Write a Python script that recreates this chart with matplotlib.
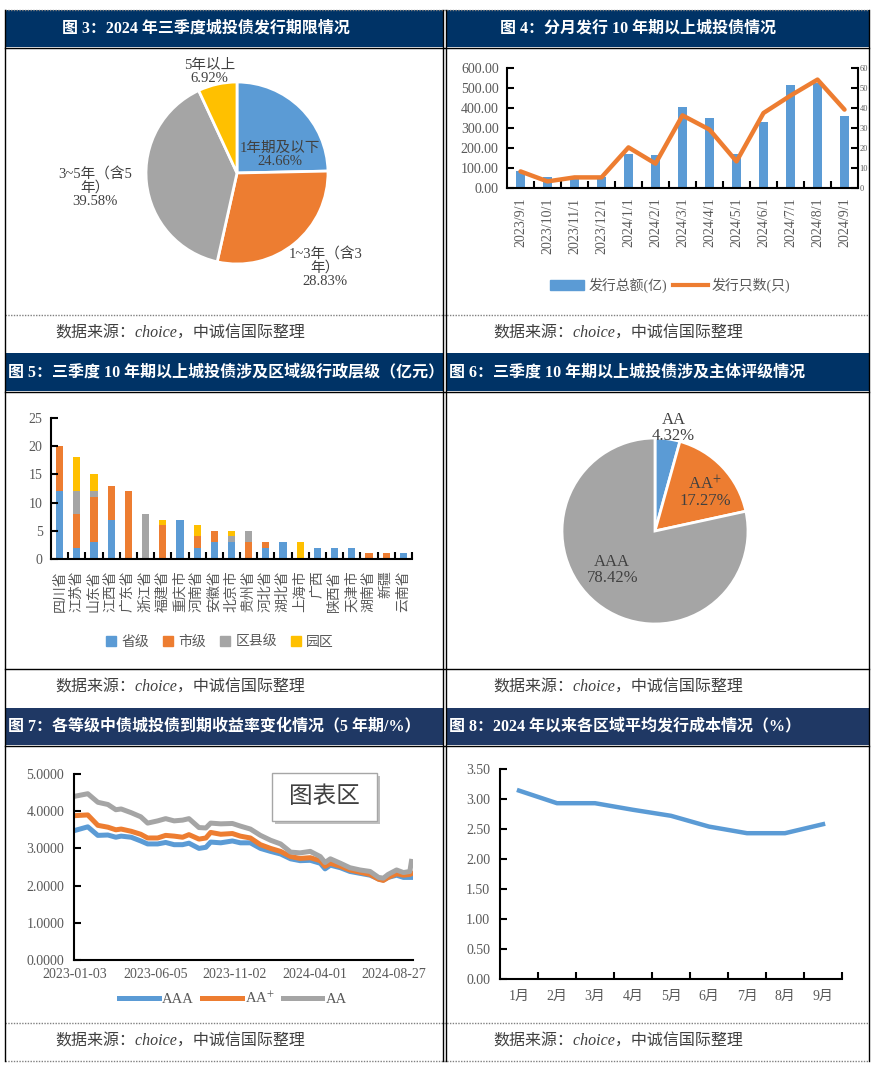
import matplotlib.pyplot as plt
import matplotlib.patches as mpatches
from matplotlib.lines import Line2D
import numpy as np
import pandas as pd

plt.rcParams['font.family'] = ['Liberation Serif', 'Noto Sans CJK SC']
plt.rcParams['mathtext.fontset'] = 'stix'
plt.rcParams['axes.unicode_minus'] = False

W, H = 871, 1066
TXT = '#595959'
LAB = '#404040'
BLUE, ORANGE, GRAY, YELLOW = '#5B9BD5', '#ED7D31', '#A5A5A5', '#FFC000'
NAVY, NAVY2 = '#003366', '#1F3864'

# 图3 发行期限
term_names = ['1年期及以下', '1~3年（含3\n年）', '3~5年（含5\n年）', '5年以上']
term_share = [24.66, 28.83, 39.58, 6.92]

# 图4 分月发行
months4 = ['2023/9/1', '2023/10/1', '2023/11/1', '2023/12/1', '2024/1/1', '2024/2/1',
           '2024/3/1', '2024/4/1', '2024/5/1', '2024/6/1', '2024/7/1', '2024/8/1', '2024/9/1']
amount4 = [87, 53, 55, 53, 172, 167, 407, 352, 172, 332, 513, 525, 362]
count4 = [8.3, 3.3, 5.3, 5.3, 20.3, 12.2, 36.3, 29.2, 13.3, 37.5, 46.2, 54.2, 39.2]

# 图5 区域行政层级
regions = ['四川省', '江苏省', '山东省', '江西省', '广东省', '浙江省', '福建省', '重庆市', '河南省',
           '安徽省', '北京市', '贵州省', '河北省', '湖北省', '上海市', '广西', '陕西省', '天津市',
           '湖南省', '新疆', '云南省']
prov = [12, 2, 3, 7, 0, 0, 0, 7, 2, 3, 3, 0, 2, 3, 0, 2, 2, 2, 0, 0, 1]
city = [8, 6, 8, 6, 12, 0, 6, 0, 2, 2, 0, 3, 1, 0, 0, 0, 0, 0, 1, 1, 0]
county = [0, 4, 1, 0, 0, 8, 0, 0, 0, 0, 1, 2, 0, 0, 0, 0, 0, 0, 0, 0, 0]
park = [0, 6, 3, 0, 0, 0, 1, 0, 2, 0, 1, 0, 0, 0, 3, 0, 0, 0, 0, 0, 0]

# 图6 主体评级
rating_names = ['AA', 'AA$^{+}$', 'AAA']
rating_share = [4.32, 17.27, 78.42]

# 图7 收益率 (5年期)
dates7 = ['2023-01-03', '2023-01-28', '2023-02-16', '2023-03-07', '2023-03-22', '2023-04-01',
          '2023-04-20', '2023-05-08', '2023-05-21', '2023-06-09', '2023-06-24', '2023-07-10',
          '2023-07-26', '2023-08-07', '2023-08-26', '2023-09-08', '2023-09-17', '2023-10-06',
          '2023-10-28', '2023-11-12', '2023-12-01', '2023-12-20', '2024-01-08', '2024-01-27',
          '2024-02-15', '2024-03-04', '2024-03-23', '2024-04-11', '2024-04-20', '2024-04-30',
          '2024-05-19', '2024-06-06', '2024-06-25', '2024-07-14', '2024-07-30', '2024-08-08',
          '2024-08-17', '2024-09-02', '2024-09-15', '2024-09-27', '2024-09-30']
aaa = [3.48, 3.58, 3.35, 3.36, 3.30, 3.33, 3.30, 3.20, 3.12, 3.12, 3.16, 3.10, 3.10, 3.14,
       3.00, 3.03, 3.17, 3.15, 3.20, 3.15, 3.15, 3.00, 2.92, 2.85, 2.72, 2.67, 2.68, 2.60,
       2.45, 2.55, 2.48, 2.38, 2.33, 2.28, 2.18, 2.15, 2.22, 2.28, 2.22, 2.22, 2.22]
aa_plus = [3.88, 3.90, 3.62, 3.57, 3.50, 3.52, 3.46, 3.38, 3.28, 3.28, 3.35, 3.33, 3.30, 3.37,
           3.25, 3.28, 3.43, 3.38, 3.40, 3.33, 3.28, 3.10, 3.00, 2.92, 2.78, 2.73, 2.75, 2.67,
           2.52, 2.60, 2.52, 2.42, 2.36, 2.30, 2.17, 2.14, 2.22, 2.32, 2.28, 2.30, 2.32]
aa = [4.40, 4.47, 4.24, 4.18, 4.04, 4.06, 3.96, 3.85, 3.68, 3.74, 3.80, 3.74, 3.76, 3.80,
      3.56, 3.55, 3.68, 3.66, 3.67, 3.60, 3.52, 3.35, 3.22, 3.12, 2.90, 2.88, 2.92, 2.78,
      2.62, 2.72, 2.60, 2.48, 2.42, 2.38, 2.22, 2.20, 2.30, 2.42, 2.35, 2.38, 2.65]
ticks7 = ['2023-01-03', '2023-06-05', '2023-11-02', '2024-04-01', '2024-08-27']

# 图8 平均发行成本
months8 = ['1月', '2月', '3月', '4月', '5月', '6月', '7月', '8月', '9月']
cost8 = [3.14, 2.93, 2.93, 2.82, 2.72, 2.54, 2.43, 2.43, 2.58]

SOURCE = '数据来源：choice，中诚信国际整理'

fig = plt.figure(figsize=(W / 100, H / 100), dpi=100)


def box(l, t, r, b):
    return fig.add_axes([l / W, 1 - b / H, (r - l) / W, (b - t) / H])


def style(ax):
    for s in ['top', 'right']:
        ax.spines[s].set_visible(False)
    for s in ['left', 'bottom']:
        ax.spines[s].set_linewidth(1.5)
        ax.spines[s].set_color('black')
    ax.tick_params(axis='both', colors='black', labelcolor=TXT, labelsize=10,
                   direction='in', width=1.5, length=5)
    ax.tick_params(axis='x', which='major', length=0)
    ax.tick_params(axis='x', which='minor', direction='in', width=1.5, length=5)


# background table
bg = fig.add_axes([0, 0, 1, 1])
bg.set_xlim(0, W)
bg.set_ylim(H, 0)
bg.axis('off')

headers = [
    (10, 47, NAVY, '图 3：2024 年三季度城投债发行期限情况', '图 4：分月发行 10 年期以上城投债情况', True),
    (353, 391, NAVY, '图 5：三季度 10 年期以上城投债涉及区域级行政层级（亿元）',
     '图 6：三季度 10 年期以上城投债涉及主体评级情况', False),
    (708, 745, NAVY2, '图 7：各等级中债城投债到期收益率变化情况（5 年期/%）',
     '图 8：2024 年以来各区域平均发行成本情况（%）', False),
]
for t, b, col, lt, rt, centered in headers:
    bg.add_patch(mpatches.Rectangle((5, t), 438, b - t, color=col, lw=0))
    bg.add_patch(mpatches.Rectangle((446, t), 423, b - t, color=col, lw=0))
    bg.plot([5, 869], [b + 1, b + 1], color='black', lw=1)
    yc = (t + b) / 2
    if centered:
        bg.text(206, yc, lt, color='white', fontsize=11.5, weight='bold', ha='center', va='center')
        bg.text(638, yc, rt, color='white', fontsize=11.5, weight='bold', ha='center', va='center')
    else:
        bg.text(8, yc, lt, color='white', fontsize=11.5, weight='bold', ha='left', va='center')
        bg.text(449, yc, rt, color='white', fontsize=11.5, weight='bold', ha='left', va='center')

for y in [334, 688, 1042]:
    bg.text(55, y, SOURCE, fontsize=11.5, style='italic', color=LAB, va='center')
    bg.text(493, y, SOURCE, fontsize=11.5, style='italic', color=LAB, va='center')

for y in [10, 315, 1023, 1061]:
    bg.plot([5, 869], [y, y], color='#808080', lw=1, ls=(0, (1, 1)))
bg.plot([5, 869], [669, 669], color='black', lw=1)
for x in [5, 443, 446, 869]:
    bg.plot([x, x], [10, 1061], color='black', lw=1)

# 图3 pie
ax3 = box(237 - 91, 173 - 91, 237 + 91, 173 + 91)
ax3.pie(term_share, colors=[BLUE, ORANGE, GRAY, YELLOW], startangle=90, counterclock=False,
        wedgeprops=dict(edgecolor='white', linewidth=2))
ax3.set_xlim(-1, 1)
ax3.set_ylim(-1, 1)
pos3 = [(0.47, 0.20), (0.97, -1.04), (-1.56, -0.16), (-0.30, 1.11)]
for name, v, (dx, dy) in zip(term_names, term_share, pos3):
    ax3.text(dx, dy, f'{name}\n{v:.2f}%', ha='center', va='center', fontsize=10.5,
             color=LAB, linespacing=1.0)

# 图4 bar + line
ax4 = box(507, 68, 858, 188)
x4 = np.arange(len(months4))
ax4.bar(x4, amount4, width=0.32, color=BLUE)
ax4.set_xlim(-0.5, len(months4) - 0.5)
ax4.set_ylim(0, 600)
ax4.set_yticks(range(0, 601, 100))
ax4.yaxis.set_major_formatter('{x:.2f}')
ax4.set_xticks(x4)
ax4.set_xticklabels(months4, rotation=90, fontsize=9.5)
ax4.set_xticks(x4[:-1] + 0.5, minor=True)
style(ax4)
ax4.tick_params(axis='y', pad=6)
ax4.tick_params(axis='x', pad=7)
ax4t = ax4.twinx()
ax4t.plot(x4, count4, color=ORANGE, lw=3.2, solid_capstyle='round')
ax4t.set_ylim(0, 60)
ax4t.set_yticks(range(0, 61, 10))
for s in ['top', 'left', 'bottom']:
    ax4t.spines[s].set_visible(False)
ax4t.spines['right'].set_linewidth(1.5)
ax4t.tick_params(axis='y', direction='in', width=1.5, length=5, labelcolor=TXT,
                 labelsize=6, pad=1)
fig.legend(handles=[mpatches.Patch(color=BLUE, label='发行总额(亿)'),
                    Line2D([], [], color=ORANGE, lw=3, label='发行只数(只)')],
           loc='center', bbox_to_anchor=(670 / W, 1 - 285 / H), ncol=2, frameon=False,
           fontsize=10, labelcolor=TXT, handlelength=2.5, handletextpad=0.3, columnspacing=0.4)

# 图5 stacked bar
ax5 = box(51, 418, 412, 559)
x5 = np.arange(len(regions))
bottom = np.zeros(len(regions))
for vals, col in [(prov, BLUE), (city, ORANGE), (county, GRAY), (park, YELLOW)]:
    ax5.bar(x5, vals, bottom=bottom, width=0.42, color=col)
    bottom += np.array(vals)
ax5.set_xlim(-0.5, len(regions) - 0.5)
ax5.set_ylim(0, 25)
ax5.set_yticks(range(0, 26, 5))
ax5.set_xticks(x5)
ax5.set_xticklabels(regions, rotation=90, fontsize=9.5)
ax5.set_xticks(x5 + 0.5, minor=True)
style(ax5)
ax5.tick_params(axis='y', pad=6)
ax5.tick_params(axis='x', pad=8)
fig.legend(handles=[mpatches.Patch(color=c, label=l) for c, l in
                    zip([BLUE, ORANGE, GRAY, YELLOW], ['省级', '市级', '区县级', '园区'])],
           loc='center', bbox_to_anchor=(220 / W, 1 - 642 / H), ncol=4, frameon=False,
           fontsize=10, labelcolor=TXT, handlelength=0.7, handleheight=0.7,
           handletextpad=0.4, columnspacing=1.0)

# 图6 pie
ax6 = box(655 - 93, 531 - 93, 655 + 93, 531 + 93)
ax6.pie(rating_share, colors=[BLUE, ORANGE, GRAY], startangle=90, counterclock=False,
        wedgeprops=dict(edgecolor='white', linewidth=2))
ax6.set_xlim(-1, 1)
ax6.set_ylim(-1, 1)
pos6 = [(0.20, 1.11), (0.54, 0.42), (-0.46, -0.42)]
for name, v, (dx, dy) in zip(rating_names, rating_share, pos6):
    ax6.text(dx, dy, f'{name}\n{v:.2f}%', ha='center', va='center', fontsize=12,
             color=LAB, linespacing=1.0)

# 图7 yields
ax7 = box(74, 774, 413, 960)
d7 = pd.to_datetime(dates7)
ax7.plot(d7, aaa, color=BLUE, lw=3.6)
ax7.plot(d7, aa_plus, color=ORANGE, lw=3.6)
ax7.plot(d7, aa, color=GRAY, lw=3.6)
ax7.set_xlim(pd.Timestamp('2023-01-02'), pd.Timestamp('2024-10-03'))
ax7.set_ylim(0, 5)
ax7.set_yticks(range(0, 6))
ax7.yaxis.set_major_formatter('{x:.4f}')
ax7.set_xticks(pd.to_datetime(ticks7))
ax7.set_xticklabels(ticks7)
style(ax7)
ax7.tick_params(axis='y', pad=7)
ax7.tick_params(axis='x', pad=6)
fig.legend(handles=[Line2D([], [], color=BLUE, lw=3.6, label='AAA'),
                    Line2D([], [], color=ORANGE, lw=3.6, label='AA$^{+}$'),
                    Line2D([], [], color=GRAY, lw=3.6, label='AA')],
           loc='center', bbox_to_anchor=(233 / W, 1 - 998 / H), ncol=3, frameon=False,
           fontsize=10.5, labelcolor=TXT, handlelength=2.7, handletextpad=0.2, columnspacing=0.6)

# 图8 cost
ax8 = box(500, 769, 842, 979)
x8 = np.arange(len(months8))
ax8.plot(x8, cost8, color=BLUE, lw=3.2)
ax8.set_xlim(-0.5, len(months8) - 0.5)
ax8.set_ylim(0, 3.5)
ax8.set_yticks(np.arange(0, 3.51, 0.5))
ax8.yaxis.set_major_formatter('{x:.2f}')
ax8.set_xticks(x8)
ax8.set_xticklabels(months8)
ax8.set_xticks(x8 + 0.5, minor=True)
style(ax8)
ax8.tick_params(axis='y', pad=7)
ax8.tick_params(axis='x', pad=8)

# "图表区" box
top = fig.add_axes([0, 0, 1, 1])
top.patch.set_alpha(0)
top.set_xlim(0, W)
top.set_ylim(H, 0)
top.axis('off')
top.add_patch(mpatches.Rectangle((275, 776), 105, 48, color='#BFBFBF', lw=0))
top.add_patch(mpatches.Rectangle((272, 773), 105, 48, facecolor='white', edgecolor='#A6A6A6', lw=1))
top.text(324.5, 797, '图表区', fontsize=17, color=LAB, ha='center', va='center')

fig.savefig('out.png', dpi=100)
